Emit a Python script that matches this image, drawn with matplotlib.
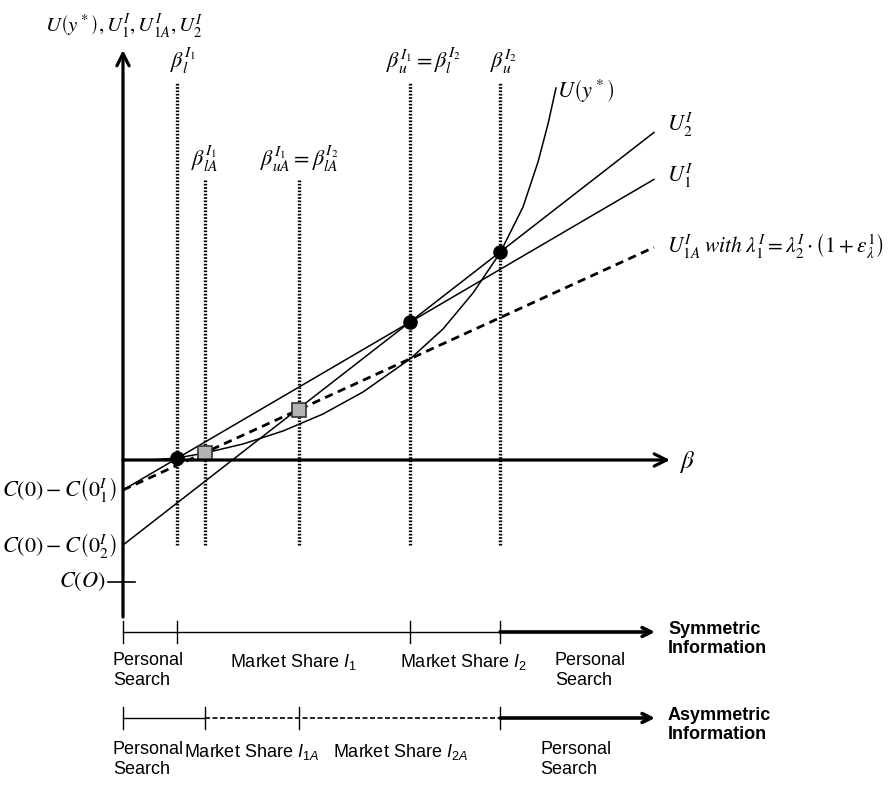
import matplotlib
matplotlib.use("Agg")
import matplotlib.pyplot as plt

plt.rcParams["mathtext.fontset"] = "stix"
plt.rcParams["mathtext.rm"] = "Liberation Sans"
plt.rcParams["mathtext.it"] = "Liberation Sans:italic"
plt.rcParams["mathtext.bf"] = "Liberation Sans:bold"
plt.rcParams["font.family"] = "Liberation Sans"

# thresholds on the beta axis
beta_cuts = [54, 82, 176, 287, 377]
cut_tops = [378, 280, 280, 378, 378]
cut_bottom = -85
cut_labels = [r"$\beta_l^{I_1}$", r"$\beta_{lA}^{I_1}$",
              r"$\beta_{uA}^{I_1}=\beta_{lA}^{I_2}$",
              r"$\beta_u^{I_1}=\beta_l^{I_2}$", r"$\beta_u^{I_2}$"]
cut_label_x = [60, 82, 176, 300, 381]

# linear utilities: intercept, slope
u2_line = (-85, 0.777)
u1_line = (-30, 0.585)
u1a_line = (-30, 0.457)
line_end = 531

# U(y*) curve
curve_b = [27, 54, 82, 120, 160, 200, 240, 287, 320, 350, 377, 400, 415, 425, 433]
curve_u = [0, 2, 7, 16, 29, 46, 68, 101, 131, 167, 207, 253, 298, 336, 372]

cost_o = -122

fig = plt.figure(figsize=(8.9, 7.86), dpi=100)
ax = fig.add_axes([0, 0, 1, 1])
ax.set_xlim(-123, 767)
ax.set_ylim(-326, 460)
ax.axis("off")


def lin(p, b):
    return p[0] + p[1] * b


arr = dict(arrowstyle="->", lw=2.3, color="black", mutation_scale=22,
           shrinkA=0, shrinkB=0)

# axes
ax.annotate("", xy=(0, 410), xytext=(0, -157), arrowprops=arr)
ax.annotate("", xy=(547, 0), xytext=(0, 0), arrowprops=arr)
ax.plot([-15, 12], [cost_o, cost_o], color="black", lw=1.2)

# vertical thresholds
for b, top in zip(beta_cuts, cut_tops):
    ax.plot([b, b], [cut_bottom, top], color="black", lw=2.4,
            ls=(0, (0.5, 0.5)))

# lines
xs = [0, line_end]
ax.plot(xs, [lin(u2_line, x) for x in xs], color="black", lw=1.1)
ax.plot(xs, [lin(u1_line, x) for x in xs], color="black", lw=1.1)
ax.plot(xs, [lin(u1a_line, x) for x in xs], color="black", lw=2.0,
        ls=(0, (3, 2)))
ax.plot(curve_b, curve_u, color="black", lw=1.1)

# intersection markers
dots_b = [beta_cuts[0], beta_cuts[3]]
ax.plot(dots_b, [lin(u1_line, b) for b in dots_b], "o", color="black", ms=9.5)
ax.plot([beta_cuts[4]], [lin(u2_line, beta_cuts[4])], "o", color="black", ms=9.5)
sq_b = [beta_cuts[1], beta_cuts[2]]
ax.plot(sq_b, [lin(u1a_line, b) for b in sq_b], "s", mfc="#b4b4b4",
        mec="#333333", mew=1.2, ms=9.5)

# labels of the thresholds
for x, top, lab in zip(cut_label_x, cut_tops, cut_labels):
    ax.text(x, top + 6, lab, fontsize=16, ha="center", va="bottom")

ax.text(-78, 434, r"$U\left(y^*\right),U_1^I,U_{1A}^I,U_2^I$", fontsize=15,
        ha="left", va="center")
ax.text(434, 369, r"$U\left(y^*\right)$", fontsize=16, ha="left", va="center")
ax.text(544, lin(u2_line, line_end) + 8, r"$U_2^I$", fontsize=16, va="center")
ax.text(544, lin(u1_line, line_end) + 4, r"$U_1^I$", fontsize=16, va="center")
ax.text(544, lin(u1a_line, line_end) + 2,
        r"$U_{1A}^I\;with\;\lambda_1^I=\lambda_2^I\cdot\left(1+\varepsilon_\lambda^1\right)$",
        fontsize=15.5, va="center")
ax.text(556, -2, r"$\beta$", fontsize=18, va="center")

ax.text(-6, lin(u1_line, 0), r"$C(0)-C\left(0_1^I\right)$", fontsize=16,
        ha="right", va="center")
ax.text(-6, lin(u2_line, 0), r"$C(0)-C\left(0_2^I\right)$", fontsize=16,
        ha="right", va="center")
ax.text(-17, cost_o, r"$C(O)$", fontsize=16, ha="right", va="center")

# market segmentation bars
sym_y = -172
asym_y = -258
tick_h = 11
arr_bar = dict(arrowstyle="->", lw=2.6, color="black", mutation_scale=16,
               shrinkA=0, shrinkB=0)

ax.plot([0, beta_cuts[4]], [sym_y, sym_y], color="black", lw=1.0)
ax.annotate("", xy=(532, sym_y), xytext=(beta_cuts[4], sym_y), arrowprops=arr_bar)
for b in [0, beta_cuts[0], beta_cuts[3], beta_cuts[4]]:
    ax.plot([b, b], [sym_y - tick_h, sym_y + tick_h], color="black", lw=1.0)

ax.plot([0, beta_cuts[1]], [asym_y, asym_y], color="black", lw=1.0)
ax.plot([beta_cuts[1], beta_cuts[4]], [asym_y, asym_y], color="black", lw=1.2,
        ls=(0, (3, 1.5)))
ax.annotate("", xy=(532, asym_y), xytext=(beta_cuts[4], asym_y), arrowprops=arr_bar)
for b in [0, beta_cuts[1], beta_cuts[2], beta_cuts[4]]:
    ax.plot([b, b], [asym_y - tick_h, asym_y + tick_h], color="black", lw=1.0)

ax.text(545, sym_y + 11, "Symmetric\nInformation", fontsize=13, fontweight="bold",
        va="top", linespacing=1.15)
ax.text(545, asym_y + 11, "Asymmetric\nInformation", fontsize=13, fontweight="bold",
        va="top", linespacing=1.15)

fs = 13
ax.text(-10, sym_y - 20, "Personal\nSearch", fontsize=fs, va="top", linespacing=1.25)
ax.text(107, sym_y - 30, r"Market Share $I_{\mathit{1}}$", fontsize=fs,
        va="center", math_fontfamily="custom")
ax.text(277, sym_y - 30, r"Market Share $I_{\mathit{2}}$", fontsize=fs,
        va="center", math_fontfamily="custom")
ax.text(432, sym_y - 20, "Personal\nSearch", fontsize=fs, va="top", linespacing=1.25)

ax.text(-10, asym_y - 23, "Personal\nSearch", fontsize=fs, va="top", linespacing=1.25)
ax.text(61, asym_y - 34, r"Market Share $I_{\mathit{1A}}$", fontsize=fs,
        va="center", math_fontfamily="custom")
ax.text(210, asym_y - 34, r"Market Share $I_{\mathit{2A}}$", fontsize=fs,
        va="center", math_fontfamily="custom")
ax.text(417, asym_y - 23, "Personal\nSearch", fontsize=fs, va="top", linespacing=1.25)

fig.savefig("out.png", dpi=100)
